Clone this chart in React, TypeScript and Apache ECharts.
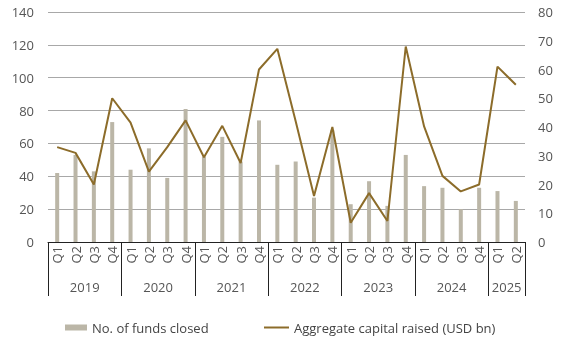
import React, { useEffect, useRef } from "react";
import * as echarts from "echarts";

const quarters = [
  "Q1","Q2","Q3","Q4","Q1","Q2","Q3","Q4","Q1","Q2","Q3","Q4",
  "Q1","Q2","Q3","Q4","Q1","Q2","Q3","Q4","Q1","Q2","Q3","Q4","Q1","Q2",
];
const years = ["2019", "2020", "2021", "2022", "2023", "2024", "2025"];
const yearBoundaries = [0, 4, 8, 12, 16, 20, 24, 26];
const yearCenters = [2, 6, 10, 14, 18, 22, 25];
const fundsClosed = [
  42, 53, 43, 73, 44, 57, 39, 81, 52, 64, 49, 74,
  47, 49, 27, 68, 23, 37, 22, 53, 34, 33, 20, 33, 31, 25,
];
const capitalRaised = [
  33, 31, 20, 50, 41.5, 24.5, 33, 42.3, 29.5, 40.4, 27.5, 60,
  67.2, 42, 16, 40, 6.7, 17, 7.3, 68, 40.2, 23, 17.6, 20, 61, 54.7,
];

const FONT = "Open Sans";
const TEXT = "#555555";
const BAR = "#BBB6A7";
const LINE = "#8C6C2A";

export default function App() {
  const ref = useRef<HTMLDivElement>(null);
  useEffect(() => {
    if (!ref.current) return;
    const chart = echarts.init(ref.current, null, { renderer: "svg" });
    chart.setOption({
      animation: false,
      textStyle: { fontFamily: FONT },
      grid: { left: 48, right: 55, top: 12, bottom: 99 },
      legend: [
        {
          data: ["No. of funds closed"],
          left: 65,
          top: 321,
          padding: 0,
          itemWidth: 22,
          itemHeight: 6,
          icon: "rect",
          textStyle: { color: "#444", fontSize: 13, fontFamily: FONT },
        },
        {
          data: ["Aggregate capital raised (USD bn)"],
          left: 264,
          top: 321,
          padding: 0,
          itemWidth: 25,
          itemHeight: 2,
          icon: "rect",
          textStyle: { color: "#444", fontSize: 13, fontFamily: FONT },
        },
      ],
      xAxis: [
        {
          type: "category",
          data: quarters,
          boundaryGap: true,
          axisLine: { show: true, lineStyle: { color: "#222", width: 1 } },
          axisTick: { show: false },
          axisLabel: {
            rotate: 90,
            margin: 4,
            interval: 0,
            color: TEXT,
            fontSize: 13,
            fontFamily: FONT,
          },
        },
        {
          type: "value",
          min: 0,
          max: 26,
          position: "bottom",
          axisLine: { show: false },
          splitLine: { show: false },
          axisTick: {
            show: true,
            inside: false,
            length: 54,
            customValues: yearBoundaries,
            lineStyle: { color: "#222", width: 1 },
          },
          axisLabel: {
            customValues: yearCenters,
            margin: 38,
            color: TEXT,
            fontSize: 13,
            fontFamily: FONT,
            formatter: (v: number) => {
              const i = yearCenters.indexOf(Math.round(v));
              return i >= 0 ? years[i] : "";
            },
          },
        },
      ],
      yAxis: [
        {
          type: "value",
          min: 0,
          max: 140,
          interval: 20,
          axisLine: { show: false },
          axisTick: { show: false },
          splitLine: { show: true, lineStyle: { color: "#A8A8A8", width: 1 } },
          axisLabel: { color: TEXT, fontSize: 13, fontFamily: FONT, margin: 14 },
        },
        {
          type: "value",
          min: 0,
          max: 80,
          interval: 10,
          axisLine: { show: false },
          axisTick: { show: false },
          splitLine: { show: false },
          axisLabel: { color: TEXT, fontSize: 13, fontFamily: FONT, margin: 13 },
        },
      ],
      series: [
        {
          name: "No. of funds closed",
          type: "bar",
          data: fundsClosed,
          xAxisIndex: 0,
          yAxisIndex: 0,
          barWidth: 4,
          itemStyle: { color: BAR },
        },
        {
          name: "Aggregate capital raised (USD bn)",
          type: "line",
          data: capitalRaised,
          xAxisIndex: 0,
          yAxisIndex: 1,
          symbol: "none",
          lineStyle: { color: LINE, width: 2 },
          itemStyle: { color: LINE },
        },
      ],
    });
    return () => chart.dispose();
  }, []);
  return (
    <div
      ref={ref}
      style={{ position: "fixed", left: 0, top: 0, width: 580, height: 341 }}
    />
  );
}
